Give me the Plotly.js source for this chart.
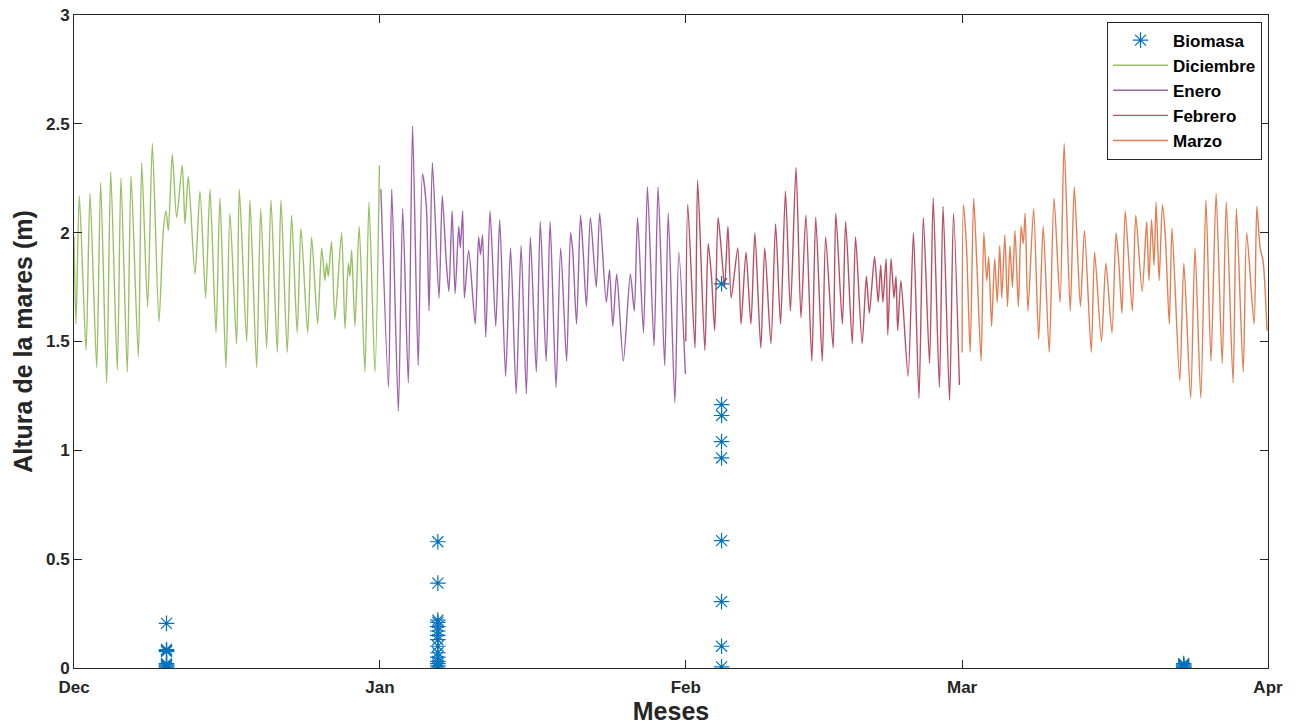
<!DOCTYPE html>
<html>
<head>
<meta charset="utf-8">
<script src="https://cdn.plot.ly/plotly-3.0.1.min.js"></script>
<style>html,body{margin:0;padding:0;background:#fff;}#chart{width:1309px;height:726px;}</style>
</head>
<body>
<div id="chart"></div>
<script>
// Month start dates
var monthStarts = ['2017-12-01', '2018-01-01', '2018-02-01', '2018-03-01', '2018-04-01'];
var monthTicks = ['Dec', 'Jan', 'Feb', 'Mar', 'Apr'];
var yTicks = [0, 0.5, 1, 1.5, 2, 2.5, 3];
var yTickText = ['0', '0.5', '1', '1.5', '2', '2.5', '3'];

// Tide heights (m): time offsets in days from each month start, with heights
var decT = [0,0.2,0.54,1.22,1.62,2.3,2.7,3.31,3.72,4.39,4.76,5.4,5.78,6.52,6.86,7.46,7.94,8.61,9.05,9.32,9.56,9.96,10.4,10.97,11.25,11.58,12.26,12.77,13.34,13.78,14.39,14.79,15.4,15.8,16.48,16.75,17.5,17.83,18.51,18.92,19.52,19.96,20.6,20.97,21.61,22.05,22.62,23.0,23.68,24.08,24.69,25.1,25.43,25.6,25.77,26.1,26.44,27.12,27.46,27.8,27.96,28.14,28.47,28.9,29.48,29.89,30.5,30.95];
var decH = [1.98,1.58,2.17,1.46,2.18,1.38,2.23,1.31,2.28,1.37,2.25,1.36,2.26,1.43,2.32,1.66,2.41,1.59,2.01,2.10,2.01,2.36,2.07,2.31,2.04,2.26,1.81,2.19,1.70,2.20,1.54,2.16,1.38,2.09,1.49,2.20,1.50,2.15,1.38,2.11,1.47,2.15,1.45,2.15,1.45,2.08,1.54,2.02,1.54,1.98,1.58,1.93,1.78,1.86,1.80,1.96,1.60,2.00,1.56,1.86,1.80,1.92,1.57,2.03,1.36,2.14,1.36,2.31];

var janT = [0.1,0.87,1.2,1.87,2.31,2.88,3.31,3.88,4.31,4.71,4.98,5.32,5.99,6.32,6.72,6.99,7.32,7.62,7.99,8.15,8.39,8.56,9.0,9.66,10.0,10.2,10.4,10.73,11.16,11.74,12.14,12.74,13.24,13.81,14.31,14.84,15.25,15.85,16.25,16.85,17.25,17.85,18.32,18.92,19.32,19.55,19.93,20.33,20.6,20.93,21.33,21.93,22.27,22.94,23.27,23.6,24.0,24.67,25.38,25.78,26.11,26.71,27.11,27.78,28.19,28.86,29.22,29.89,30.29,30.96];
var janH = [2.20,1.29,2.20,1.18,2.11,1.31,2.49,1.39,2.27,2.12,1.64,2.32,1.70,2.17,1.87,1.73,2.10,1.72,2.03,1.93,2.10,1.70,1.92,1.58,1.98,1.90,1.99,1.52,2.10,1.57,2.06,1.34,1.93,1.26,1.94,1.26,1.98,1.36,2.05,1.41,2.05,1.29,1.93,1.41,2.00,1.91,1.58,2.08,1.91,1.66,2.07,1.75,2.09,1.68,1.83,1.57,1.81,1.41,1.81,1.64,2.07,1.54,2.21,1.48,2.21,1.39,2.09,1.22,1.91,1.35];

var febT = [0.0,0.2,0.93,1.2,1.93,2.27,2.6,2.93,3.27,3.6,3.93,4.27,4.6,5.27,5.6,6.1,6.6,7.0,7.6,8.0,8.63,9.1,9.6,10.1,10.6,11.17,11.67,12.17,12.77,13.17,13.83,14.17,14.93,15.2,15.87,16.2,16.87,17.2,17.87,18.3,18.6,19.13,19.5,19.75,19.97,20.3,20.47,20.8,21.1,21.3,21.47,21.8,22.53,23.07,23.63,24.07,24.7,25.07,25.7,26.07,26.73,27.13,27.73];
var febH = [1.50,2.13,1.47,2.24,1.46,1.95,1.80,1.55,2.07,1.92,1.75,2.03,1.70,1.93,1.58,1.91,1.58,2.00,1.47,1.93,1.49,2.04,1.58,2.19,1.64,2.30,1.61,2.08,1.41,2.07,1.41,1.98,1.47,2.09,1.58,2.05,1.49,1.98,1.49,1.80,1.63,1.89,1.68,1.85,1.68,1.88,1.53,1.88,1.70,1.80,1.55,1.78,1.34,2.00,1.24,2.07,1.40,2.16,1.29,2.12,1.23,2.09,1.30];

var marT = [0.0,0.13,0.45,0.82,1.17,1.5,1.93,2.2,2.5,2.7,2.99,3.3,3.56,3.81,4.02,4.33,4.6,4.85,5.1,5.36,5.7,5.98,6.2,6.39,6.67,7.25,7.76,8.22,8.83,9.31,9.93,10.34,10.96,11.37,11.99,12.4,13.09,13.43,14.12,14.57,15.19,15.6,15.9,16.2,16.53,17.25,17.6,18.25,18.7,18.94,19.2,19.45,19.66,19.97,20.3,20.6,21.0,21.27,22.06,22.47,23.16,23.6,24.19,24.71,25.22,25.74,26.36,26.77,27.46,27.8,28.49,28.84,29.59,29.87,30.2,30.5,30.9];
var marH = [1.45,2.13,1.93,1.45,2.16,1.85,1.41,2.00,1.78,1.89,1.57,1.88,1.68,1.94,1.70,1.99,1.66,1.94,1.75,2.01,1.66,2.03,1.95,2.09,1.64,2.11,1.51,2.03,1.45,2.16,1.68,2.41,1.64,2.21,1.66,2.01,1.45,1.91,1.50,1.86,1.54,2.00,1.85,1.63,2.10,1.64,2.08,1.73,2.05,1.78,2.06,1.85,2.14,1.78,2.13,1.98,1.58,2.02,1.32,1.86,1.24,1.93,1.24,2.15,1.41,2.18,1.40,2.14,1.31,2.11,1.36,2.00,1.58,2.12,1.93,1.87,1.55];

// Biomass samples (sampling date-time and value)
var bioDate = [
  '2017-12-10 09:00','2017-12-10 09:00','2017-12-10 09:00','2017-12-10 09:00','2017-12-10 09:00','2017-12-10 09:00','2017-12-10 09:00','2017-12-10 09:00','2017-12-10 09:00',
  '2018-01-06 21:00','2018-01-06 21:00','2018-01-06 21:00','2018-01-06 21:00','2018-01-06 21:00','2018-01-06 21:00','2018-01-06 21:00','2018-01-06 21:00','2018-01-06 21:00','2018-01-06 21:00','2018-01-06 21:00','2018-01-06 21:00','2018-01-06 21:00','2018-01-06 21:00','2018-01-06 21:00',
  '2018-02-04 15:00','2018-02-04 15:00','2018-02-04 15:00','2018-02-04 15:00','2018-02-04 15:00','2018-02-04 15:00','2018-02-04 15:00','2018-02-04 15:00','2018-02-04 15:00',
  '2018-03-23 11:00','2018-03-23 11:00','2018-03-23 11:00','2018-03-23 11:00','2018-03-23 11:00','2018-03-23 11:00'
];
var bioVal = [
  0.205,0.085,0.08,0.075,0.02,0.015,0.01,0.005,0.0,
  0.58,0.39,0.22,0.21,0.19,0.17,0.15,0.13,0.10,0.07,0.05,0.03,0.02,0.01,0.0,
  1.765,1.21,1.16,1.04,0.965,0.585,0.305,0.10,0.005,
  0.02,0.015,0.01,0.005,0.0,0.0
];

function toDates(start, offsets) {
  var base = new Date(start + 'T00:00:00Z').getTime();
  return offsets.map(function (d) {
    var t = new Date(base + d * 86400000);
    return t.toISOString().replace('T', ' ').slice(0, 19);
  });
}

var FONT = 'Liberation Sans, Arial, Helvetica, sans-serif';
var AX = '#262626';

function tideTrace(name, start, t, h, color) {
  return {
    type: 'scatter', mode: 'lines', name: name,
    x: toDates(start, t), y: h, opacity: 0.75,
    line: {color: color, width: 1.4, shape: 'spline', smoothing: 0.7}
  };
}

var traces = [
  {type: 'scatter', mode: 'markers', name: 'Biomasa', x: bioDate, y: bioVal,
   marker: {symbol: 'asterisk-open', size: 13, color: '#0072BD', line: {color: '#0072BD', width: 1.2}}},
  tideTrace('Diciembre', monthStarts[0], decT, decH, '#77AC30'),
  tideTrace('Enero', monthStarts[1], janT, janH, '#7E2F8E'),
  tideTrace('Febrero', monthStarts[2], febT, febH, '#A2142F'),
  tideTrace('Marzo', monthStarts[3], marT, marH, '#D95319')
];

var layout = {
  width: 1309, height: 726,
  margin: {l: 74, r: 41, t: 15, b: 58},
  paper_bgcolor: '#fff', plot_bgcolor: '#fff',
  font: {family: FONT, color: AX, size: 17, weight: 'bold'},
  showlegend: true,
  legend: {
    x: 0.995, y: 0.99, xanchor: 'right', yanchor: 'top',
    bgcolor: '#fff', bordercolor: AX, borderwidth: 1,
    font: {family: FONT, size: 17, color: '#000', weight: 'bold'},
    itemwidth: 55, tracegroupgap: 0
  },
  xaxis: {
    type: 'date',
    range: [monthStarts[0], monthStarts[4]],
    tickvals: monthStarts, ticktext: monthTicks,
    ticks: 'inside', ticklen: 8, tickwidth: 1, tickcolor: AX,
    showline: true, linecolor: AX, linewidth: 1, mirror: 'ticks',
    showgrid: false, zeroline: false, ticklabelstandoff: 4,
    tickfont: {family: FONT, size: 17, color: AX, weight: 'bold'},
    title: {text: 'Meses', font: {family: FONT, size: 25, color: AX, weight: 'bold'}, standoff: 0}
  },
  yaxis: {
    range: [0, 3],
    tickvals: yTicks, ticktext: yTickText,
    ticks: 'inside', ticklen: 8, tickwidth: 1, tickcolor: AX,
    showline: true, linecolor: AX, linewidth: 1, mirror: 'ticks',
    showgrid: false, zeroline: false,
    tickfont: {family: FONT, size: 17, color: AX, weight: 'bold'},
    title: {text: 'Altura de la mares (m)', font: {family: FONT, size: 25, color: AX, weight: 'bold'}, standoff: 6}
  }
};

Plotly.newPlot('chart', traces, layout, {displayModeBar: false, staticPlot: true});
</script>
</body>
</html>
